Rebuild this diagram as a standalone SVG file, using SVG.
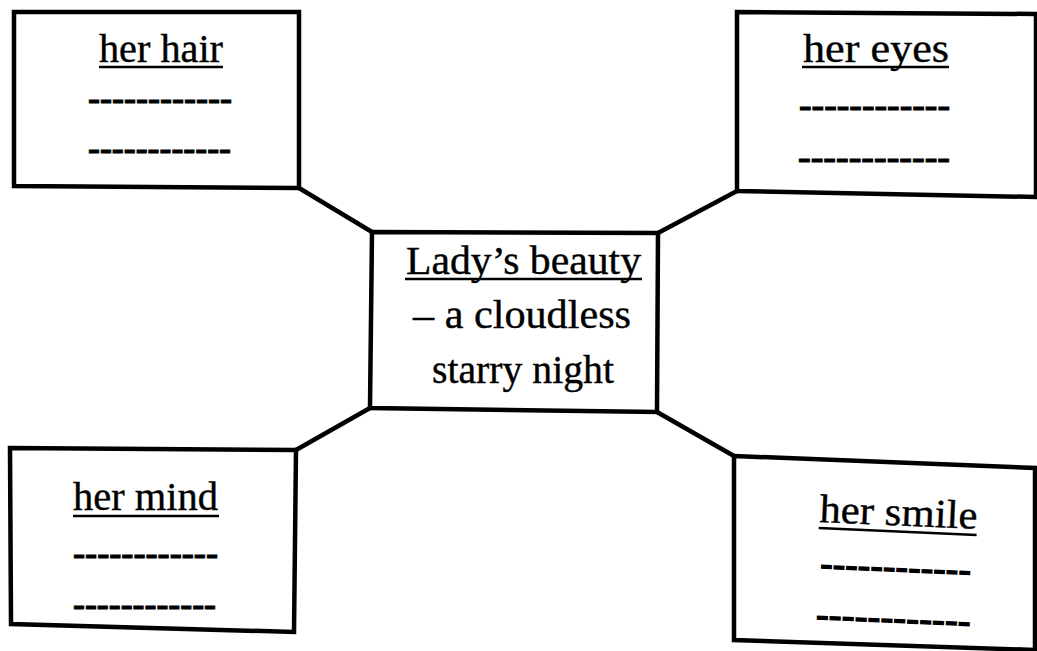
<svg xmlns="http://www.w3.org/2000/svg" width="1037" height="651" viewBox="0 0 1037 651">
<style>
.box{fill:#fff;stroke:#000;stroke-width:4.5;stroke-linejoin:miter}
.con{stroke:#000;stroke-width:4.5;fill:none}
.t{font-family:"Liberation Serif","Times New Roman",serif;font-size:40px;fill:#000;stroke:#000;stroke-width:0.4}
.d{font-family:"Liberation Serif","Times New Roman",serif;font-size:40px;fill:#000;stroke:#000;stroke-width:1.2}
.u{stroke:#000;stroke-width:2.5}
</style>
<rect width="1037" height="651" fill="#fff"/>
<g id="connectors">
<line class="con" x1="299" y1="188" x2="372" y2="232"/>
<line class="con" x1="737" y1="191" x2="658" y2="233"/>
<line class="con" x1="296" y1="450" x2="370" y2="408"/>
<line class="con" x1="734" y1="456" x2="657" y2="412"/>
</g>
<g id="hair">
<polygon class="box" points="14,12 299,12 299,188 14,186"/>
<text class="t" x="99" y="62" textLength="124" lengthAdjust="spacingAndGlyphs">her hair</text>
<line class="u" x1="99" y1="67" x2="223" y2="67"/>
<text class="d" x="88" y="111" textLength="144" lengthAdjust="spacingAndGlyphs">------------</text>
<text class="d" x="88" y="161" textLength="143" lengthAdjust="spacingAndGlyphs">------------</text>
</g>
<g id="eyes">
<polygon class="box" points="737,12 1036,14 1036,197 737,191"/>
<text class="t" x="803" y="62" textLength="146" lengthAdjust="spacingAndGlyphs">her eyes</text>
<line class="u" x1="802" y1="67" x2="949" y2="67"/>
<text class="d" x="799" y="118" textLength="151" lengthAdjust="spacingAndGlyphs">------------</text>
<text class="d" x="798" y="170" textLength="152" lengthAdjust="spacingAndGlyphs">------------</text>
</g>
<g id="center">
<polygon class="box" points="372,232 658,233 657,412 370,408"/>
<text class="t" x="406" y="274" textLength="235" lengthAdjust="spacingAndGlyphs">Lady’s beauty</text>
<line class="u" x1="405" y1="279" x2="642" y2="279"/>
<text class="t" x="413" y="328" textLength="218" lengthAdjust="spacingAndGlyphs">– a cloudless</text>
<text class="t" x="432" y="383" textLength="182" lengthAdjust="spacingAndGlyphs">starry night</text>
</g>
<g id="mind">
<polygon class="box" points="10,448 296,450 294,632 11,624"/>
<text class="t" x="73" y="510" textLength="145" lengthAdjust="spacingAndGlyphs">her mind</text>
<line class="u" x1="73" y1="516" x2="219" y2="516"/>
<text class="d" x="73" y="566" textLength="145" lengthAdjust="spacingAndGlyphs">------------</text>
<text class="d" x="73" y="617" textLength="143" lengthAdjust="spacingAndGlyphs">------------</text>
</g>
<g id="smile">
<polygon class="box" points="734,456 1035,468 1035,650 734,640"/>
<g transform="rotate(2.5 819 522)">
<text class="t" x="819" y="522" textLength="158" lengthAdjust="spacingAndGlyphs">her smile</text>
<line class="u" x1="819" y1="528" x2="977" y2="528"/>
<text class="d" x="822" y="576" textLength="151" lengthAdjust="spacingAndGlyphs">------------</text>
<text class="d" x="820" y="627" textLength="155" lengthAdjust="spacingAndGlyphs">------------</text>
</g>
</g>
</svg>
